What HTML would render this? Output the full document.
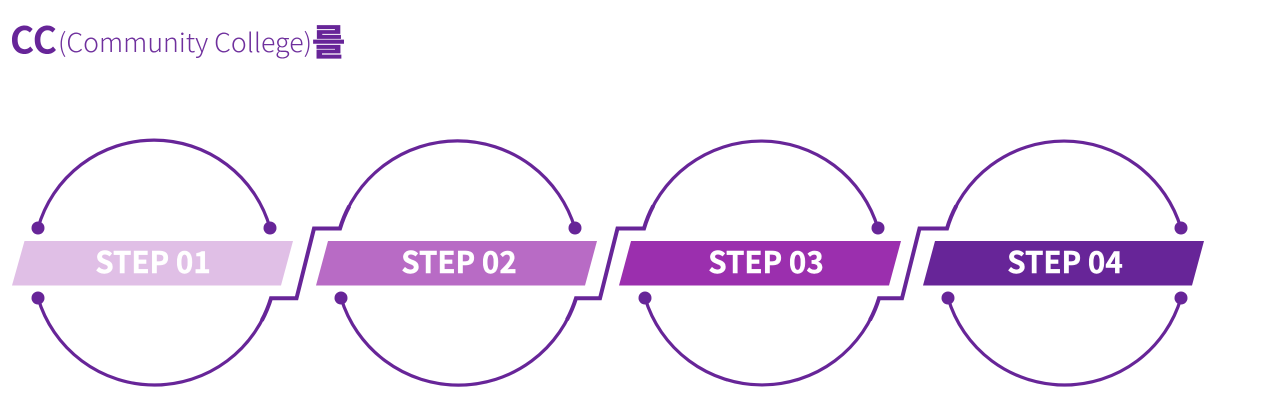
<!DOCTYPE html>
<html>
<head>
<meta charset="utf-8">
<style>
html,body{margin:0;padding:0;background:#fff;width:1280px;height:400px;overflow:hidden}
svg{display:block}
text{font-family:"Liberation Sans","Noto Sans CJK KR",sans-serif}
.s{font-family:"Noto Sans CJK KR",sans-serif;font-weight:700;font-size:29.5px;fill:#fff;stroke:#fff;stroke-width:.4px;text-anchor:middle}
.t{font-family:"Noto Sans CJK KR",sans-serif;fill:#672598}
</style>
</head>
<body>
<svg width="1280" height="400" viewBox="0 0 1280 400" xmlns="http://www.w3.org/2000/svg">
<text class="t" x="10" y="53.5" font-size="37" font-weight="700" textLength="47" lengthAdjust="spacingAndGlyphs">CC</text>
<text class="t" x="58" y="52" font-size="26" font-weight="300" textLength="254" lengthAdjust="spacingAndGlyphs" fill-opacity=".95">(Community College)</text>
<text class="t" x="312" y="55" font-size="36" font-weight="700" stroke="#672598" stroke-width=".7">를</text>

<g fill="none" stroke="#672598" stroke-width="3.2">
<path d="M38 228A120.5 120.5 0 0 1 270 228"/>
<path d="M38 298A121.5 121.5 0 0 0 271 298"/>
<path d="M340 228.5A122.6 122.6 0 0 1 575 228.5"/>
<path d="M341 298A122.8 122.8 0 0 0 576 298"/>
<path d="M644 228.5A122 122 0 0 1 878 228.5"/>
<path d="M645 298A122.2 122.2 0 0 0 879 298"/>
<path d="M947 228.5A122 122 0 0 1 1181 228.5"/>
<path d="M948 298A121.5 121.5 0 0 0 1181 298"/>
</g>
<g fill="none" stroke="#672598" stroke-width="4" stroke-linejoin="miter">
<path d="M261.8 320.5A121.5 121.5 0 0 0 271 298.3H296.5L314 228.5H340A122.6 122.6 0 0 1 349.3 206"/>
<path d="M566.9 319.9A122.8 122.8 0 0 0 576 298.3H600L617.5 228.5H644A122 122 0 0 1 653.3 205.7"/>
<path d="M869.9 320.2A122.2 122.2 0 0 0 879 298.3H902L919.5 228.5H947A122 122 0 0 1 956.3 205.7"/>
</g>
<g fill="#672598">
<circle cx="38" cy="228" r="6.5"/><circle cx="270" cy="228" r="6.5"/>
<circle cx="38" cy="298" r="6.5"/>
<circle cx="575" cy="228" r="6.5"/><circle cx="341" cy="298" r="6.5"/>
<circle cx="878" cy="228" r="6.5"/><circle cx="645" cy="298" r="6.5"/>
<circle cx="1181" cy="228" r="6.5"/><circle cx="948" cy="298" r="6.5"/><circle cx="1181" cy="298" r="6.5"/>
</g>
<polygon points="24.5,241 293,241 281,285.5 12,285.5" fill="#e0bfe6"/>
<polygon points="328,241 597,241 585,285.5 316,285.5" fill="#b86bc5"/>
<polygon points="631,241 901,241 889,285.5 619,285.5" fill="#9b2fae"/>
<polygon points="935,241 1204,241 1192,285.5 923,285.5" fill="#672598"/>
<text class="s" x="153" y="273">STEP 01</text>
<text class="s" x="459" y="273">STEP 02</text>
<text class="s" x="766" y="273">STEP 03</text>
<text class="s" x="1065" y="273">STEP 04</text>
</svg>
</body>
</html>
